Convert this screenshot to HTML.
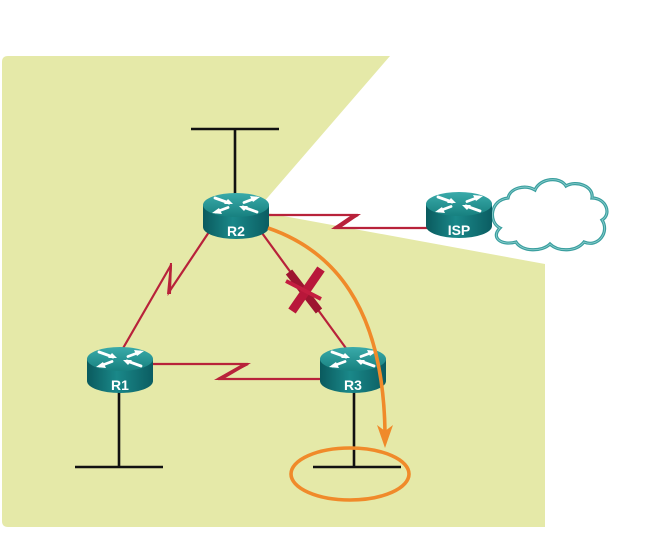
<!DOCTYPE html>
<html><head><meta charset="utf-8"><style>
html,body{margin:0;padding:0;background:#fff;}
svg{display:block;}
</style></head><body>
<svg width="653" height="556" viewBox="0 0 653 556" xmlns="http://www.w3.org/2000/svg">
<defs>
<linearGradient id="body" x1="0" y1="0" x2="1" y2="0">
<stop offset="0" stop-color="#0a5a5e"/>
<stop offset="0.45" stop-color="#1a8889"/>
<stop offset="1" stop-color="#0b5d62"/>
</linearGradient>
<linearGradient id="top" x1="0" y1="0" x2="0" y2="1">
<stop offset="0" stop-color="#3aabaa"/>
<stop offset="1" stop-color="#17807f"/>
</linearGradient>
<symbol id="router" overflow="visible">
<path d="M-33,0 L-33,22 A33,12 0 0 0 33,22 L33,0 Z" fill="url(#body)"/>
<ellipse cx="0" cy="0" rx="33" ry="12" fill="url(#top)"/>
<g stroke="#fff" stroke-width="2.8" stroke-linecap="round">
<line x1="-21" y1="-7" x2="-7" y2="-2"/>
<line x1="7" y1="2" x2="21" y2="7"/>
<line x1="20" y1="-7" x2="8" y2="-2.5"/>
<line x1="-8" y1="2.5" x2="-20" y2="7"/>
</g>
<g fill="#fff">
<polygon points="-3,-1 -12,-1 -8,-6"/>
<polygon points="3,1 12,1 8,6"/>
<polygon points="24,-8 14,-9 17,-3"/>
<polygon points="-24,8 -14,9 -17,3"/>
</g>
</symbol>
</defs>

<!-- background panel -->
<path d="M8,56 L390,56 L256,211 L545,264 L545,527 L8,527 Q2,527 2,521 L2,62 Q2,56 8,56 Z" fill="#e5e9a8"/>

<!-- LAN T bars -->
<g stroke="#111" stroke-width="2.6" fill="none">
<line x1="191" y1="129" x2="279" y2="129"/>
<line x1="235" y1="129" x2="235" y2="195"/>
<line x1="75" y1="467" x2="163" y2="467"/>
<line x1="119" y1="390" x2="119" y2="467"/>
<line x1="313" y1="467" x2="401" y2="467"/>
<line x1="354" y1="390" x2="354" y2="467"/>
</g>

<!-- red serial links -->
<g stroke="#b8223a" stroke-width="2.2" fill="none" stroke-linejoin="miter">
<polyline points="262,215 358,215 334,228 430,228"/>
<polyline points="150,364 248,364 218,379 325,379"/>
<polyline points="122,350 171,265 169,292 209,232"/>
<line x1="262" y1="233" x2="348" y2="351"/>
</g>
<g fill="#b8223a">
<polygon points="361,214 353,214 331,229 339,229"/>
<polygon points="251,363 244,363 214,380 222,380"/>
<polygon points="170,263 172,263 171,294 167,294"/>
</g>

<!-- X mark -->
<g stroke-linecap="butt">
<line x1="289" y1="272" x2="319" y2="311" stroke="#9d1530" stroke-width="8"/>
<line x1="321" y1="269" x2="292" y2="311" stroke="#b8173a" stroke-width="9"/>
<line x1="286" y1="281" x2="321" y2="299" stroke="#c41d40" stroke-width="4"/>
</g>

<!-- cloud -->
<path d="M500,228 C488,222 490,200 508,198 C510,188 525,184 535,190 C540,178 560,176 566,186 C576,180 594,186 592,198 C606,198 612,214 602,220 C610,232 598,248 584,242 C576,252 558,252 550,244 C542,252 522,252 516,242 C502,246 490,238 500,228 Z" fill="#fff" stroke="#3a9f9f" stroke-width="3.2"/>
<path d="M500,228 C488,222 490,200 508,198 C510,188 525,184 535,190 C540,178 560,176 566,186 C576,180 594,186 592,198 C606,198 612,214 602,220 C610,232 598,248 584,242 C576,252 558,252 550,244 C542,252 522,252 516,242 C502,246 490,238 500,228 Z" fill="none" stroke="#8fcfcf" stroke-width="0.8"/>

<!-- routers -->
<use href="#router" x="236" y="205"/>
<use href="#router" x="459" y="204"/>
<use href="#router" x="120" y="359"/>
<use href="#router" x="353" y="359"/>
<g fill="#fff" font-family="'Liberation Sans', Arial, sans-serif" font-weight="bold" font-size="14" text-anchor="middle">
<text x="236" y="236">R2</text>
<text x="459" y="235">ISP</text>
<text x="120" y="390">R1</text>
<text x="353" y="390">R3</text>
</g>

<!-- orange path -->
<path d="M268,228 C332,250 383,305 385,432" fill="none" stroke="#f08a2a" stroke-width="3.6"/>
<polygon points="385,448 377,425 385,431 393,425" fill="#f08a2a"/>
<ellipse cx="350" cy="474" rx="59" ry="26" fill="none" stroke="#f08a2a" stroke-width="3.6"/>
</svg>
</body></html>
